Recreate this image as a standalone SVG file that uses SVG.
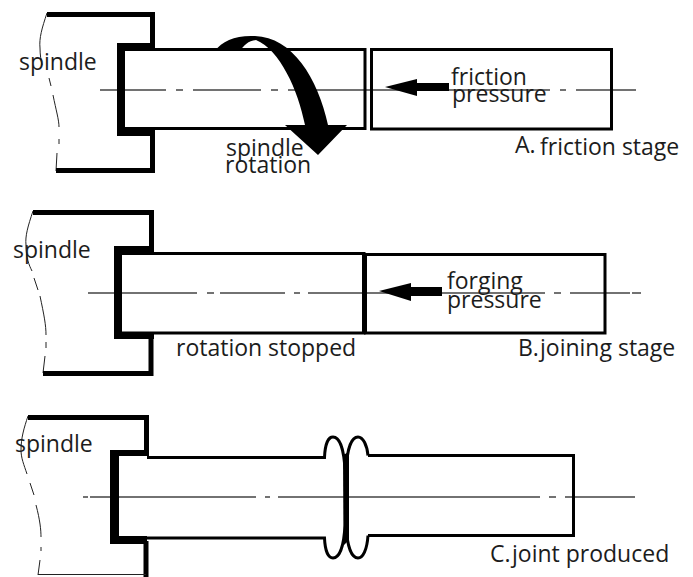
<svg xmlns="http://www.w3.org/2000/svg" width="693" height="577" viewBox="0 0 693 577">
<style>
text{font-family:"Open Sans","Noto Sans","Liberation Sans",sans-serif;font-size:23px;fill:#1c1c1c}
.c{fill:none;stroke:#444;stroke-width:1.3}
.k{fill:none;stroke:#000;stroke-linejoin:miter}
.s{fill:none;stroke:#222;stroke-width:1}
.f{fill:#000;stroke:none}
</style>
<rect width="693" height="577" fill="#fff"/>
<g id="connectors">
<path class="c" d="M100 90H166M176 90H183M193 90H261M271 90H278M288 90H550M560 90H566M576 90H636"/>
<path class="c" d="M88 293H197M207 293H214M220 293H285M294 293H300M308 293H545M554 293H561M570 293H630M632 293H641"/>
<path class="c" d="M83 497H88M90 497H256M265 497H270M278 497H540M549 497H556M565 497H635"/>
</g>
<g id="stage-a-spindle">
<path class="s" d="M47 13C42 28 39 38 40 48C40 55 41 60 42 65M49 78L51 86M53 95C56 110 59 120 59 127M59 139V144M57 153L56 171"/>
<path class="k" stroke-width="5" d="M47 14.500H152.500V45M152.500 134V170.500H56"/>
<path class="k" stroke-width="3" d="M125 49.500H365V128.500H125"/>
<path class="f" d="M117 43H155V50H125V128H155V136H117Z"/>
<text x="19" y="70">spindle</text>
</g>
<g id="stage-a-rotation">
<path class="f" d="M215 51C222 41 236 35 255 36C292 37 318 78 328 125H347L318 155L285 125H305C298 90 280 50 256 40C248 41 244 45 240 51Z"/>
<text x="226" y="156">spindle</text>
<text x="225" y="173">rotation</text>
</g>
<g id="stage-a-workpiece">
<rect x="371.500" y="49.500" width="240" height="79.500" fill="none" stroke="#000" stroke-width="3"/>
<path class="f" d="M385 87L417 79V83H449V91H417V96Z"/>
<text x="451" y="85">friction</text>
<text x="452" y="102">pressure</text>
<text x="515" y="153">A.</text>
<text x="540" y="155">friction stage</text>
</g>
<g id="stage-b-spindle">
<path class="s" d="M33 211C28 226 25 236 26 245C26 258 29 265 32 271M34 278L38 290M40 296C44 315 46 325 46 335M46 342V348M45 356L43 373"/>
<path class="k" stroke-width="5" d="M33 212.500H151.500V248M151 336V373.500H43"/>
<path class="k" stroke-width="3" d="M122 253.500H364V333H122"/>
<path class="f" d="M114 246H154V252H122V332H154V339H114Z"/>
<text x="13" y="258">spindle</text>
<text x="176" y="356">rotation</text>
<text x="268" y="356">stopped</text>
</g>
<g id="stage-b-workpiece">
<path class="k" stroke-width="3" d="M364 254.500H605V333H364"/>
<rect x="362" y="253" width="5" height="81" class="f"/>
<path class="f" d="M379 291L411 283V287H442V296H411V301Z"/>
<text x="447" y="289">forging</text>
<text x="447" y="308">pressure</text>
<text x="518" y="356">B.</text>
<text x="540" y="356">joining stage</text>
</g>
<g id="stage-c-spindle">
<path class="s" d="M28 416C24 428 21 438 21 450C21 458 24 465 27 474M30 483L34 495M36 505C40 520 41 530 41 537M41 547V551M40 560L38 575"/>
<path class="k" stroke-width="5" d="M28 417.500H146.500V453M146 541V577"/>
<path class="s" d="M38 574.500H146" stroke-width="2"/>
<path class="f" d="M110 450H149V456H119V536H147V544H110Z"/>
<text x="15" y="452">spindle</text>
</g>
<g id="stage-c-joint">
<path class="k" stroke-width="3" d="M147 457.500H324.500C325 445 328 437 333 437C340 437 344 450 345 470V525C344 545 340 558 333 558C328 558 325 550 324.500 538H119"/>
<path class="k" stroke-width="3" d="M368 455.500C367 445 363 437 358 437C351 437 347 450 346 470V525C347 545 351 558 358 558C363 558 367 550 368 535.500"/>
<path class="k" stroke-width="3" d="M368 455.500H573.500V535.500H368"/>
<path class="f" d="M343 455L349 452V540L344 545Z"/>
<text x="490" y="562">C.</text>
<text x="512" y="562">joint produced</text>
</g>
</svg>
